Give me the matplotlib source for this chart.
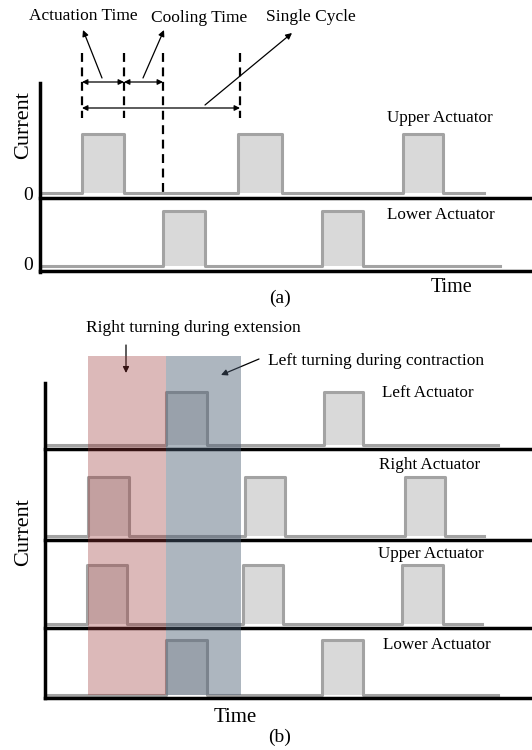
import numpy as np
import matplotlib
matplotlib.use('Agg')
import matplotlib.pyplot as plt

plt.rcParams['font.family'] = ['Liberation Serif', 'DejaVu Serif']

# schematic timing data (time axis in figure units, pulses = (start, end))
a_upper_pulses = [(82, 124), (238, 282), (403, 443)]
a_lower_pulses = [(163, 205), (322, 363)]
a_markers = [82, 124, 163, 240]

b_names = ['Left Actuator', 'Right Actuator', 'Upper Actuator', 'Lower Actuator']
b_pulses = [
    [(166, 207), (324, 363)],
    [(88, 129), (245, 285), (405, 445)],
    [(87, 127), (243, 283), (402, 443)],
    [(166, 207), (322, 363)],
]
b_baselines = [445, 536, 624, 695]
b_tops = [392, 477, 565, 640]
b_axis_lines = [449, 540, 628, 698]
b_ends = [498, 484, 482, 498]
b_label_pos = [(428, 393), (430, 465), (431, 554), (437, 645)]

ext_phase = (88, 166)
con_phase = (166, 241)

PULSE_EDGE = '#a3a3a3'
PULSE_FILL = '#d9d9d9'

fig = plt.figure(figsize=(5.32, 7.5), dpi=100)
ax = fig.add_axes([0, 0, 1, 1])
ax.set_xlim(0, 532)
ax.set_ylim(750, 0)
ax.axis('off')


def draw_signal(pulses, x0, x1, base, top):
    xs = [x0]
    ys = [base]
    for s, e in pulses:
        xs += [s, s, e, e]
        ys += [base, top, top, base]
    xs.append(x1)
    ys.append(base)
    ax.fill_between(xs, ys, base, color=PULSE_FILL, lw=0, zorder=1)
    ax.plot(xs, ys, color=PULSE_EDGE, lw=2.2, solid_joinstyle='round', zorder=2)


# ---------------- panel (a) ----------------
ax.plot([40, 40], [83, 272], color='black', lw=2.5, zorder=3)
ax.plot([40, 532], [198, 198], color='black', lw=2.5, zorder=3)
ax.plot([40, 532], [271, 271], color='black', lw=2.5, zorder=3)
draw_signal(a_upper_pulses, 43, 484, 193, 134)
draw_signal(a_lower_pulses, 42, 500, 266, 211)

for i, xm in enumerate(a_markers):
    y_end = 195 if xm == 163 else 118
    ax.plot([xm, xm], [53, y_end], color='black', lw=1.6, ls=(0, (4, 2.5)), zorder=4)

arr = dict(arrowstyle='<|-|>', color='black', lw=0.9, mutation_scale=8, shrinkA=0, shrinkB=0)
ax.annotate('', xy=(a_markers[0], 82), xytext=(a_markers[1], 82), arrowprops=arr)
ax.annotate('', xy=(a_markers[1], 82), xytext=(a_markers[2], 82), arrowprops=arr)
ax.annotate('', xy=(a_markers[0], 108), xytext=(a_markers[3], 108), arrowprops=arr)

one = dict(arrowstyle='-|>', color='black', lw=0.9, mutation_scale=9, shrinkA=0, shrinkB=0)
ax.annotate('', xy=(83, 30), xytext=(102, 78), arrowprops=one)
ax.annotate('', xy=(164, 30), xytext=(143, 78), arrowprops=one)
ax.annotate('', xy=(292, 33), xytext=(205, 105), arrowprops=one)

ax.text(83, 16, 'Actuation Time', fontsize=12.5, ha='center', va='center')
ax.text(199, 18, 'Cooling Time', fontsize=12.5, ha='center', va='center')
ax.text(311, 17, 'Single Cycle', fontsize=12.5, ha='center', va='center')
ax.text(440, 118, 'Upper Actuator', fontsize=12.3, ha='center', va='center')
ax.text(441, 215, 'Lower Actuator', fontsize=12.3, ha='center', va='center')
ax.text(28, 195, '0', fontsize=14, ha='center', va='center')
ax.text(28, 266, '0', fontsize=14, ha='center', va='center')
ax.text(24, 125, 'Current', fontsize=16, rotation=90, ha='center', va='center')
ax.text(452, 288, 'Time', fontsize=14.5, ha='center', va='center')
ax.text(280, 298, '(a)', fontsize=14, ha='center', va='center')

# ---------------- panel (b) ----------------
ax.plot([45, 45], [383, 698], color='black', lw=2.5, zorder=3)
for yl in b_axis_lines:
    ax.plot([45, 532], [yl, yl], color='black', lw=2.5, zorder=3)
for pulses, base, top, xe in zip(b_pulses, b_baselines, b_tops, b_ends):
    draw_signal(pulses, 46, xe, base, top)
for name, (lx, ly) in zip(b_names, b_label_pos):
    ax.text(lx, ly, name, fontsize=12.3, ha='center', va='center')

ax.axvspan(ext_phase[0], ext_phase[1], ymin=1 - 695 / 750, ymax=1 - 356 / 750,
           color=(155 / 255, 55 / 255, 55 / 255), alpha=0.35, lw=0, zorder=5)
ax.axvspan(con_phase[0], con_phase[1], ymin=1 - 695 / 750, ymax=1 - 356 / 750,
           color=(75 / 255, 93 / 255, 115 / 255), alpha=0.45, lw=0, zorder=5)

ax.text(193, 328, 'Right turning during extension', fontsize=12.5, ha='center', va='center')
ax.text(376, 361, 'Left turning during contraction', fontsize=12.5, ha='center', va='center')
ax.annotate('', xy=(126, 373), xytext=(126, 345), arrowprops=one)
ax.annotate('', xy=(221, 375), xytext=(259, 359), arrowprops=one)

ax.text(24, 532, 'Current', fontsize=16, rotation=90, ha='center', va='center')
ax.text(235, 717, 'Time', fontsize=15, ha='center', va='center')
ax.text(280, 737, '(b)', fontsize=14, ha='center', va='center')

fig.savefig('out.png', dpi=100)
